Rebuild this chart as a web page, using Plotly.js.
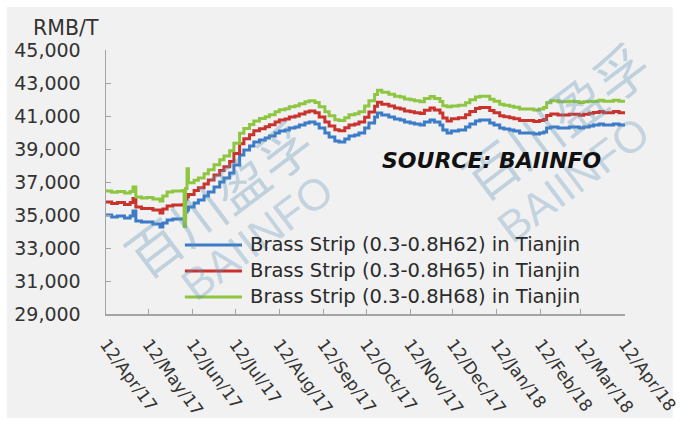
<!DOCTYPE html>
<html>
<head>
<meta charset="utf-8">
<script src="https://cdn.plot.ly/plotly-3.0.1.min.js"></script>
<style>
  html, body { margin: 0; padding: 0; background: #ffffff; }
  #chart { width: 681px; height: 425px; }
</style>
</head>
<body>
<div id="chart"></div>
<script>
// Tianjin brass strip prices, RMB per tonne
const dates = [
  '2017-04-12','2017-04-16','2017-04-20','2017-04-25','2017-04-29','2017-05-01','2017-05-03','2017-05-07',
  '2017-05-11','2017-05-15','2017-05-20','2017-05-22','2017-05-25','2017-05-29','2017-06-03','2017-06-05',
  '2017-06-06','2017-06-07','2017-06-08','2017-06-09','2017-06-13','2017-06-16','2017-06-20','2017-06-23',
  '2017-06-27','2017-07-01','2017-07-04','2017-07-08','2017-07-11','2017-07-15','2017-07-18','2017-07-22',
  '2017-07-25','2017-07-29','2017-08-02','2017-08-05','2017-08-09','2017-08-12','2017-08-16','2017-08-19',
  '2017-08-23','2017-08-26','2017-08-30','2017-09-02','2017-09-06','2017-09-09','2017-09-13','2017-09-16',
  '2017-09-20','2017-09-23','2017-09-27','2017-09-30','2017-10-04','2017-10-07','2017-10-11','2017-10-14',
  '2017-10-18','2017-10-20','2017-10-23','2017-10-28','2017-11-01','2017-11-05','2017-11-08','2017-11-12',
  '2017-11-15','2017-11-19','2017-11-22','2017-11-26','2017-11-29','2017-12-03','2017-12-05','2017-12-08',
  '2017-12-11','2017-12-16','2017-12-21','2017-12-24','2017-12-28','2017-12-31','2018-01-03','2018-01-07',
  '2018-01-10','2018-01-14','2018-01-17','2018-01-21','2018-01-24','2018-01-28','2018-01-31','2018-02-04',
  '2018-02-07','2018-02-11','2018-02-14','2018-02-16','2018-02-19','2018-02-24','2018-02-28','2018-03-04',
  '2018-03-07','2018-03-11','2018-03-14','2018-03-18','2018-03-21','2018-03-25','2018-03-28','2018-04-01',
  '2018-04-04','2018-04-08','2018-04-12'
];

const h62 = [
  35000,34880,34940,34820,34940,35240,34640,34580,
  34580,34450,34270,34520,34700,34760,34760,34760,
  34800,35180,35300,35490,35730,35910,36150,36390,
  36700,37000,37240,37550,38030,38640,38940,39180,
  39420,39550,39670,39790,39970,40090,40150,40270,
  40330,40450,40580,40640,40520,40270,39970,39730,
  39490,39420,39610,39790,39850,39970,40270,40580,
  40940,41180,41060,40940,40820,40760,40640,40580,
  40520,40450,40640,40760,40640,40450,40150,39970,
  40090,40150,40330,40520,40700,40760,40760,40580,
  40450,40270,40210,40150,40090,39970,39970,39970,
  39910,39970,40030,40270,40330,40270,40270,40330,
  40330,40270,40330,40390,40450,40520,40450,40450,
  40520,40450,40520
];

const h65 = [
  35790,35700,35760,35640,35760,36000,35480,35400,
  35400,35300,35120,35360,35540,35600,35600,35620,
  35640,35950,36100,36250,36480,36650,36880,37120,
  37420,37700,37930,38240,38720,39320,39620,39860,
  40100,40230,40350,40470,40640,40760,40820,40940,
  41000,41120,41250,41310,41190,40940,40640,40400,
  40170,40100,40290,40460,40520,40640,40930,41240,
  41590,41830,41710,41600,41480,41420,41310,41260,
  41200,41150,41350,41480,41360,41180,40880,40700,
  40830,40900,41080,41270,41450,41510,41510,41330,
  41200,41020,40960,40900,40840,40730,40730,40730,
  40670,40730,40790,41030,41120,41060,41060,41110,
  41110,41050,41110,41160,41210,41270,41200,41200,
  41270,41200,41270
];

const h68 = [
  36450,36380,36420,36330,36420,36700,36090,36030,
  36060,35970,35850,36150,36400,36450,36450,36480,
  34300,36600,37800,36950,37100,37250,37500,37750,
  38050,38350,38580,38900,39350,39950,40250,40480,
  40700,40850,40960,41080,41260,41380,41440,41560,
  41620,41740,41870,41930,41820,41560,41260,41020,
  40780,40720,40900,41080,41140,41260,41600,41920,
  42300,42560,42440,42320,42200,42150,42030,41980,
  41920,41860,42060,42180,42060,41880,41620,41560,
  41600,41650,41800,41980,42150,42200,42200,42020,
  41890,41710,41650,41590,41530,41420,41420,41420,
  41360,41420,41520,41800,41920,41860,41860,41900,
  41880,41820,41860,41880,41900,41960,41900,41900,
  41960,41900,41960
];

const seriesNames = [
  'Brass Strip (0.3-0.8H62) in Tianjin',
  'Brass Strip (0.3-0.8H65) in Tianjin',
  'Brass Strip (0.3-0.8H68) in Tianjin'
];
const seriesColors = ['#3c7bc8', '#c9332e', '#8ec641'];

const tickDates = [
  '2017-04-12','2017-05-12','2017-06-12','2017-07-12','2017-08-12','2017-09-12','2017-10-12',
  '2017-11-12','2017-12-12','2018-01-12','2018-02-12','2018-03-12','2018-04-12'
];
const tickLabels = [
  '12/Apr/17','12/May/17','12/Jun/17','12/Jul/17','12/Aug/17','12/Sep/17','12/Oct/17',
  '12/Nov/17','12/Dec/17','12/Jan/18','12/Feb/18','12/Mar/18','12/Apr/18'
];

const seriesValues = [h62, h65, h68];
const FONT = 'DejaVu Sans, Arial, sans-serif';
const AXIS_GRAY = '#a3a3a3';
const TEXT_DARK = '#333333';

const traces = seriesValues.map((vals, i) => ({
  type: 'scatter',
  mode: 'lines',
  x: dates,
  y: vals,
  name: seriesNames[i],
  line: { color: seriesColors[i], width: 3, shape: 'hv' },
  showlegend: false,
  hoverinfo: 'x+y+name'
}));

// hand-placed legend: coloured line sample + label, stacked in the lower middle
const legendRows = [0.2614, 0.1629, 0.0644];
const legendShapes = seriesNames.map((n, i) => ({
  type: 'line', xref: 'paper', yref: 'paper',
  x0: 0.152, x1: 0.262, y0: legendRows[i], y1: legendRows[i],
  line: { color: seriesColors[i], width: 3 }
}));
const legendLabels = seriesNames.map((n, i) => ({
  xref: 'paper', yref: 'paper', x: 0.2736, y: legendRows[i],
  xanchor: 'left', yanchor: 'middle', showarrow: false,
  text: n, font: { family: FONT, size: 19.5, color: '#2b2b2b' }
}));

// faint diagonal watermark
const wmColor = 'rgba(95,145,185,0.33)';
const watermarks = [
  { x: 0.215, y: 0.440, text: '百川盈孚', size: 54, cjk: true },
  { x: 0.290, y: 0.290, text: 'BAIINFO', size: 44 },
  { x: 0.865, y: 0.735, text: '百川盈孚', size: 54, cjk: true },
  { x: 0.900, y: 0.510, text: 'BAIINFO', size: 44 }
].map(w => ({
  xref: 'paper', yref: 'paper', x: w.x, y: w.y,
  xanchor: 'center', yanchor: 'middle', showarrow: false,
  text: w.text, textangle: -37,
  font: { family: w.cjk ? 'Noto Sans CJK SC, sans-serif' : 'Liberation Sans, Arial, sans-serif', size: w.size, color: wmColor }
}));

const layout = {
  width: 681,
  height: 425,
  margin: { l: 106, r: 56, t: 50, b: 111, pad: 0 },
  paper_bgcolor: '#ffffff',
  plot_bgcolor: 'rgba(0,0,0,0)',
  showlegend: false,
  xaxis: {
    type: 'date',
    range: ['2017-04-12', '2018-04-12 04:00'],
    tickmode: 'array',
    tickvals: tickDates,
    ticktext: tickLabels,
    tickangle: 54,
    ticks: 'inside',
    ticklen: 5,
    tickwidth: 1,
    tickcolor: AXIS_GRAY,
    showline: true,
    linecolor: AXIS_GRAY,
    linewidth: 1.5,
    showgrid: false,
    zeroline: false,
    ticklabelstandoff: 12,
    ticklabeloverflow: 'allow',
    tickfont: { family: FONT, size: 17, color: TEXT_DARK }
  },
  yaxis: {
    range: [29000, 45000],
    tick0: 29000,
    dtick: 2000,
    tickformat: ',d',
    ticks: 'inside',
    ticklen: 5,
    tickwidth: 1,
    tickcolor: AXIS_GRAY,
    showline: true,
    linecolor: AXIS_GRAY,
    linewidth: 1.5,
    showgrid: false,
    zeroline: false,
    ticklabelstandoff: 20,
    tickfont: { family: FONT, size: 19, color: TEXT_DARK }
  },
  shapes: [
    {
      type: 'rect', xref: 'paper', yref: 'paper', layer: 'below',
      x0: -0.191, x1: 1.092, y0: -0.394, y1: 1.163,
      fillcolor: '#f1f1f1', line: { width: 0 }
    },
    ...legendShapes
  ],
  annotations: [
    ...watermarks,
    {
      xref: 'paper', yref: 'paper', x: -0.077, y: 1.085,
      xanchor: 'center', yanchor: 'middle', showarrow: false,
      text: 'RMB/T', font: { family: FONT, size: 20.5, color: TEXT_DARK }
    },
    {
      xref: 'paper', yref: 'paper', x: 0.742, y: 0.583,
      xanchor: 'center', yanchor: 'middle', showarrow: false,
      text: '<b><i>SOURCE: BAIINFO</i></b>', font: { family: FONT, size: 22, color: '#111111' }
    },
    ...legendLabels
  ]
};

Plotly.newPlot('chart', traces, layout, { staticPlot: true, displayModeBar: false });
</script>
</body>
</html>
